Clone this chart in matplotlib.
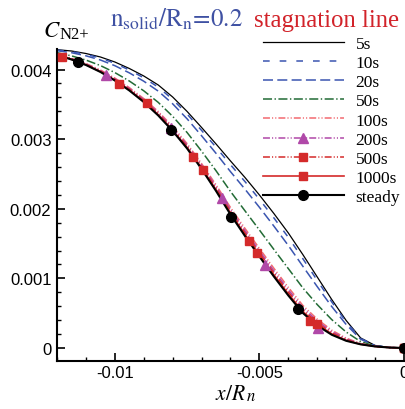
import matplotlib
matplotlib.use('Agg')
import matplotlib.pyplot as plt
from matplotlib.lines import Line2D
from matplotlib.ticker import MultipleLocator
import numpy as np

# x/Rn positions (in units of 1e-3)
x_k = [-12, -11.5, -11, -10.5, -10, -9.5, -9, -8.5, -8, -7.5, -7, -6.5, -6,
       -5.5, -5, -4.5, -4, -3.5, -3, -2.5, -2, -1.5, -1, -0.5, 0]

# C_N2+ (in units of 1e-3)
c_5s = [4.286, 4.267, 4.231, 4.181, 4.109, 4.016, 3.908, 3.779, 3.606, 3.398, 3.168,
        2.931, 2.687, 2.450, 2.198, 1.932, 1.652, 1.343, 1.020, 0.697, 0.395, 0.144,
        0.036, 0.007, 0.0]
c_10s = [4.281, 4.258, 4.219, 4.166, 4.090, 3.994, 3.882, 3.748, 3.572, 3.361, 3.126,
         2.884, 2.633, 2.391, 2.136, 1.869, 1.589, 1.284, 0.971, 0.662, 0.375, 0.138,
         0.035, 0.007, 0.0]
c_20s = [4.271, 4.243, 4.198, 4.138, 4.056, 3.953, 3.833, 3.691, 3.508, 3.292, 3.049,
         2.796, 2.533, 2.282, 2.021, 1.751, 1.472, 1.175, 0.881, 0.596, 0.337, 0.126,
         0.033, 0.006, 0.0]
c_50s = [4.243, 4.197, 4.137, 4.058, 3.957, 3.836, 3.695, 3.529, 3.328, 3.095, 2.828,
         2.546, 2.249, 1.971, 1.695, 1.416, 1.140, 0.864, 0.623, 0.408, 0.229, 0.092,
         0.028, 0.006, 0.0]
c_100s = [4.220, 4.161, 4.087, 3.994, 3.878, 3.741, 3.583, 3.398, 3.181, 2.935, 2.649,
          2.344, 2.018, 1.718, 1.430, 1.145, 0.871, 0.612, 0.414, 0.256, 0.141, 0.064,
          0.024, 0.006, 0.0]
c_200s = [4.217, 4.156, 4.081, 3.985, 3.867, 3.728, 3.568, 3.380, 3.162, 2.914, 2.626,
          2.317, 1.987, 1.685, 1.394, 1.108, 0.835, 0.579, 0.386, 0.236, 0.129, 0.060,
          0.023, 0.006, 0.0]
c_500s = [4.214, 4.152, 4.075, 3.978, 3.858, 3.717, 3.555, 3.365, 3.145, 2.895, 2.605,
          2.293, 1.960, 1.655, 1.364, 1.077, 0.803, 0.549, 0.361, 0.218, 0.119, 0.057,
          0.023, 0.006, 0.0]
c_1000s = [4.212, 4.148, 4.070, 3.971, 3.850, 3.708, 3.543, 3.352, 3.130, 2.879, 2.587,
           2.273, 1.937, 1.630, 1.337, 1.050, 0.776, 0.524, 0.340, 0.203, 0.110, 0.054,
           0.022, 0.006, 0.0]
c_steady = [4.210, 4.145, 4.066, 3.966, 3.843, 3.700, 3.534, 3.341, 3.118, 2.866, 2.572,
            2.256, 1.918, 1.609, 1.315, 1.027, 0.754, 0.503, 0.323, 0.190, 0.103, 0.052,
            0.022, 0.006, 0.0]

# symbol positions (units of 1e-3)
tri_x = [-10.29, -8.07, -6.28, -4.82, -2.98]
tri_y = [3.922, 3.161, 2.155, 1.193, 0.290]
sq500_x = [-9.84, -7.31, -5.37, -3.26, 0]
sq500_y = [3.793, 2.751, 1.537, 0.392, 0.0]
sq1000_x = [-11.82, -8.90, -6.96, -5.09, -3.01, 0]
sq1000_y = [4.181, 3.520, 2.557, 1.365, 0.338, 0.0]
circ_x = [-11.29, -8.07, -5.97, -3.65, 0]
circ_y = [4.114, 3.137, 1.886, 0.554, 0.0]

labels = ['5s', '10s', '20s', '50s', '100s', '200s', '500s', '1000s', 'steady']
curves = [c_5s, c_10s, c_20s, c_50s, c_100s, c_200s, c_500s, c_1000s, c_steady]

blue = '#3A55B0'
red = '#D42A2A'
ddot = (5, 1.5, 0.8, 1.5, 0.8, 1.5)
styles = [
    dict(color='black', lw=0.9, ls='-'),
    dict(color=blue, lw=1.1, dashes=(4.8, 7.2)),
    dict(color=blue, lw=1.1, dashes=(7.2, 3.1)),
    dict(color='#226B35', lw=1.1, dashes=(6.5, 1.8, 1, 1.8)),
    dict(color='#F26A70', lw=1.1, dashes=ddot),
    dict(color='#B048A8', lw=1.1, dashes=ddot),
    dict(color=red, lw=1.1, dashes=ddot),
    dict(color=red, lw=1.2, ls='-'),
    dict(color='black', lw=1.5, ls='-'),
]
markers = [None, None, None, None, None,
           dict(marker='^', ms=6.5, x=tri_x, y=tri_y),
           dict(marker='s', ms=6, x=sq500_x, y=sq500_y),
           dict(marker='s', ms=6, x=sq1000_x, y=sq1000_y),
           dict(marker='o', ms=7, x=circ_x, y=circ_y)]

plt.rcParams['mathtext.fontset'] = 'stix'
plt.rcParams['font.family'] = 'Liberation Sans'
plt.rcParams['axes.unicode_minus'] = False
plt.rcParams['lines.scale_dashes'] = False

fig = plt.figure(figsize=(4.06, 4.10), dpi=100)
ax = fig.add_axes([57 / 406, 1 - 361.5 / 410, 347 / 406, 311.8 / 410])

xs = np.array(x_k) * 1e-3
handles = []
for lab, c, st, mk in zip(labels, curves, styles, markers):
    ax.plot(xs, np.array(c) * 1e-3, **st)
    h = dict(st)
    if mk is not None:
        ax.plot(np.array(mk['x']) * 1e-3, np.array(mk['y']) * 1e-3, ls='none',
                marker=mk['marker'], ms=mk['ms'], color=st['color'],
                mec=st['color'], clip_on=False, zorder=5)
        h.update(marker=mk['marker'], ms=mk['ms'], mec=st['color'])
    handles.append(Line2D([], [], **h))

ax.set_xlim(-0.012, 0)
ax.set_ylim(-0.00018, 0.0043)
ax.set_xticks([-0.01, -0.005, 0])
ax.set_xticklabels(['-0.01', '-0.005', '0'])
ax.set_yticks([0, 0.001, 0.002, 0.003, 0.004])
ax.set_yticklabels(['0', '0.001', '0.002', '0.003', '0.004'])
ax.xaxis.set_minor_locator(MultipleLocator(0.001))
ax.yaxis.set_minor_locator(MultipleLocator(0.0002))
ax.tick_params(which='both', direction='in', labelsize=12)
ax.tick_params(which='major', length=5.7, width=1.2)
ax.tick_params(which='minor', length=3.2, width=1.0)
ax.tick_params(axis='x', pad=3)
ax.tick_params(axis='y', pad=4)
for s in ['top', 'right']:
    ax.spines[s].set_visible(False)
for s in ['left', 'bottom']:
    ax.spines[s].set_linewidth(1.5)

ax.legend(handles, labels, loc='upper left', bbox_to_anchor=(262.7 / 406, 1 - 37 / 410),
          bbox_transform=fig.transFigure, frameon=False, handlelength=4.7,
          handletextpad=0.65, labelspacing=0.17, borderpad=0, borderaxespad=0,
          numpoints=1, prop={'family': 'Liberation Serif', 'size': 12.5})

fig.text(110 / 406, 1 - 26.7 / 410, r'$\mathrm{n_{solid}/R_n\!=\!0.2}$', color='#3F51A3',
         fontsize=18, va='baseline')
fig.text(254 / 406, 1 - 26.7 / 410, 'stagnation line', color='#D2232A',
         family='Liberation Serif', fontsize=17.8, va='baseline')

# y label: C with subscript N2+
renderer = fig.canvas.get_renderer()
tc = fig.text(43 / 406, 1 - 37.3 / 410, r'$C$', fontsize=16.5, va='baseline')
bb = tc.get_window_extent(renderer=renderer)
fig.text((bb.x1 - 1.5) / 406, 1 - 39.3 / 410, 'N2+', family='Liberation Serif',
         fontsize=12, va='baseline')

# x label: x/R with subscript n
tx = fig.text(215 / 406, 1 - 400 / 410, r'$x/R$', fontsize=15.5, va='baseline')
bb = tx.get_window_extent(renderer=renderer)
fig.text((bb.x1 + 0.5) / 406, 1 - 401.5 / 410, r'$n$', fontsize=12, va='baseline')

fig.savefig('out.png', dpi=100)
